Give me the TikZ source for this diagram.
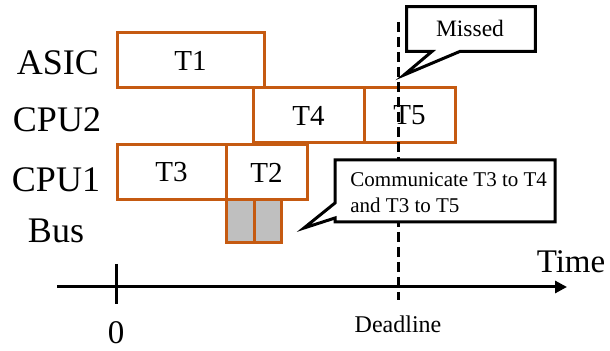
\documentclass[tikz,border=0pt]{standalone}
\usepackage{fontspec}
\setmainfont{Liberation Serif}
\usepackage{tikz}
\usetikzlibrary{arrows.meta}
\definecolor{taskorange}{HTML}{C55A11}
\definecolor{busgray}{HTML}{BFBFBF}

\begin{document}
\begin{tikzpicture}[
    x=0.5pt, y=-0.5pt,
    >={Triangle[length=6pt,width=6pt]},
    lbl/.style={anchor=base, font=\fontsize{18}{20}\selectfont},
    task/.style={draw=taskorange, line width=1.5pt, inner sep=0pt, minimum height=27.5pt,
                 font=\fontsize{14.5}{16}\selectfont},
    bus/.style={task, fill=busgray, minimum height=21.5pt},
    bubble/.style={draw=black, line width=1.5pt, fill=white, line join=miter},
    axis/.style={line width=1.5pt},
  ]
    \useasboundingbox (0,0) rectangle (610,351);

    % resources
    \node[lbl] (asic) at (58,75)  {ASIC};
    \node[lbl] (cpu2) at (57,132) {CPU2};
    \node[lbl] (cpu1) at (56,192) {CPU1};
    \node[lbl] (bus)  at (56,243) {Bus};

    % schedule
    \node[task, minimum width=73.5pt] (t1) at (190.5,60.5)  {T1};
    \node[task, minimum width=55.5pt] (t4) at (308.5,115.5) {T4};
    \node[task, minimum width=45.5pt] (t5) at (409.5,115.5) {T5};
    \node[task, minimum width=54.5pt] (t3) at (171.5,172.5) {T3};
    \node[task, minimum width=40.5pt] (t2) at (266.5,172.5) {T2};
    \node[bus, minimum width=14pt]   (c1) at (240,221.5)   {};
    \node[bus, minimum width=13.5pt] (c2) at (267.5,221.5) {};

    % time axis
    \coordinate (origin) at (116,287);
    \coordinate (tend)   at (567,287);
    \draw[axis, ->] (57,287) -- (tend);
    \draw[axis] ([yshift=11.5pt]origin) -- ([yshift=-8.5pt]origin);
    \node[anchor=base, font=\fontsize{16.5}{18}\selectfont] (time) at (571,273) {Time};
    \node[anchor=base, font=\fontsize{16.5}{18}\selectfont] (zero) at (116,344) {0};
    \node[anchor=base, font=\fontsize{12}{14}\selectfont] (dl) at (398,333) {Deadline};

    % deadline
    \coordinate (dltop) at (398,22);
    \draw[line width=1.5pt, dash pattern=on 5pt off 2.5pt] (dltop) -- (398,300);

    % callouts
    \node[font=\fontsize{11.75}{13}\selectfont, minimum width=64pt, minimum height=22pt,
          inner sep=0pt] (miss) at (471,29) {};
    \coordinate (misstip) at (404,75);
    \draw[bubble] (miss.north west) -- (miss.north east) -- (miss.south east)
      -- ([xshift=-5.5pt]miss.south) -- (misstip) -- ([xshift=-19.5pt]miss.south)
      -- (miss.south west) -- cycle;
    \node[font=\fontsize{11.75}{13}\selectfont, anchor=base] (misstxt) at (470,37) {Missed};

    \coordinate (commtip) at (304,228);
    \draw[bubble] (335,160) -- (555,160) -- (555,222) -- (335,222)
      -- (335,218) -- (commtip) -- (335,203) -- cycle;
    \node[font=\fontsize{10.5}{13}\selectfont, align=left, anchor=base west, inner sep=0pt]
      (comm) at (350,213) {Communicate T3 to T4\\and T3 to T5};
\end{tikzpicture}
\end{document}
